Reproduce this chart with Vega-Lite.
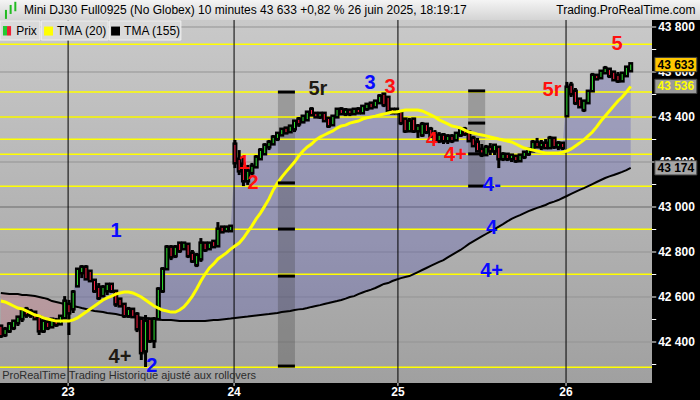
{
"$schema":"https://vega.github.io/schema/vega-lite/v6.json",
"width":652,"height":383,
"autosize":{"type":"none"},
"padding":{"left":0,"top":0,"right":48,"bottom":17},
"background":"#000000",
"config":{"view":{"stroke":null},"font":"Liberation Sans"},
"resolve":{"scale":{"color":"independent","fill":"independent"}},
"datasets":{
"bars":[
{"i":0,"o":42467,"h":42476,"l":42418,"c":42431,"a":42582,"b":42618},
{"i":1,"o":42436,"h":42467,"l":42422,"c":42453,"a":42578,"b":42616},
{"i":2,"o":42453,"h":42489,"l":42440,"c":42476,"a":42569,"b":42613},
{"i":3,"o":42467,"h":42498,"l":42453,"c":42489,"a":42560,"b":42613},
{"i":4,"o":42489,"h":42516,"l":42471,"c":42507,"a":42551,"b":42613},
{"i":5,"o":42507,"h":42551,"l":42489,"c":42538,"a":42547,"b":42609},
{"i":6,"o":42542,"h":42556,"l":42507,"c":42524,"a":42538,"b":42609},
{"i":7,"o":42524,"h":42547,"l":42507,"c":42533,"a":42529,"b":42607},
{"i":8,"o":42529,"h":42533,"l":42498,"c":42507,"a":42520,"b":42604},
{"i":9,"o":42507,"h":42516,"l":42431,"c":42453,"a":42516,"b":42600},
{"i":10,"o":42453,"h":42507,"l":42440,"c":42489,"a":42507,"b":42596},
{"i":11,"o":42484,"h":42498,"l":42453,"c":42467,"a":42502,"b":42591},
{"i":12,"o":42471,"h":42507,"l":42462,"c":42498,"a":42498,"b":42582},
{"i":13,"o":42493,"h":42507,"l":42467,"c":42480,"a":42493,"b":42578},
{"i":14,"o":42484,"h":42520,"l":42480,"c":42511,"a":42493,"b":42573},
{"i":15,"o":42511,"h":42604,"l":42507,"c":42578,"a":42493,"b":42569},
{"i":16,"o":42564,"h":42587,"l":42431,"c":42533,"a":42493,"b":42564},
{"i":17,"o":42551,"h":42631,"l":42529,"c":42618,"a":42498,"b":42560},
{"i":18,"o":42653,"h":42729,"l":42644,"c":42720,"a":42507,"b":42556},
{"i":19,"o":42711,"h":42742,"l":42684,"c":42729,"a":42520,"b":42551},
{"i":20,"o":42729,"h":42742,"l":42676,"c":42684,"a":42533,"b":42547},
{"i":21,"o":42711,"h":42720,"l":42667,"c":42676,"a":42547,"b":42542},
{"i":22,"o":42671,"h":42676,"l":42618,"c":42631,"a":42560,"b":42538},
{"i":23,"o":42640,"h":42662,"l":42587,"c":42600,"a":42573,"b":42536},
{"i":24,"o":42609,"h":42653,"l":42600,"c":42640,"a":42587,"b":42533},
{"i":25,"o":42631,"h":42662,"l":42609,"c":42653,"a":42596,"b":42529},
{"i":26,"o":42653,"h":42662,"l":42618,"c":42631,"a":42604,"b":42527},
{"i":27,"o":42622,"h":42631,"l":42556,"c":42573,"a":42613,"b":42524},
{"i":28,"o":42587,"h":42596,"l":42556,"c":42564,"a":42618,"b":42520},
{"i":29,"o":42564,"h":42564,"l":42507,"c":42520,"a":42622,"b":42518},
{"i":30,"o":42520,"h":42556,"l":42507,"c":42542,"a":42622,"b":42516},
{"i":31,"o":42542,"h":42542,"l":42507,"c":42516,"a":42618,"b":42513},
{"i":32,"o":42520,"h":42533,"l":42444,"c":42462,"a":42609,"b":42511},
{"i":33,"o":42498,"h":42507,"l":42320,"c":42356,"a":42600,"b":42509},
{"i":34,"o":42364,"h":42520,"l":42289,"c":42489,"a":42587,"b":42507},
{"i":35,"o":42498,"h":42507,"l":42396,"c":42409,"a":42573,"b":42504},
{"i":36,"o":42409,"h":42511,"l":42373,"c":42498,"a":42560,"b":42502},
{"i":37,"o":42507,"h":42644,"l":42498,"c":42631,"a":42551,"b":42500},
{"i":38,"o":42631,"h":42733,"l":42618,"c":42720,"a":42542,"b":42498},
{"i":39,"o":42729,"h":42831,"l":42720,"c":42818,"a":42538,"b":42498},
{"i":40,"o":42818,"h":42831,"l":42764,"c":42782,"a":42533,"b":42498},
{"i":41,"o":42787,"h":42831,"l":42773,"c":42818,"a":42533,"b":42496},
{"i":42,"o":42836,"h":42844,"l":42796,"c":42809,"a":42542,"b":42493},
{"i":43,"o":42818,"h":42844,"l":42809,"c":42836,"a":42556,"b":42493},
{"i":44,"o":42831,"h":42836,"l":42773,"c":42787,"a":42578,"b":42493},
{"i":45,"o":42791,"h":42809,"l":42751,"c":42764,"a":42604,"b":42493},
{"i":46,"o":42747,"h":42796,"l":42733,"c":42782,"a":42636,"b":42493},
{"i":47,"o":42773,"h":42862,"l":42756,"c":42836,"a":42671,"b":42493},
{"i":48,"o":42836,"h":42840,"l":42800,"c":42813,"a":42702,"b":42493},
{"i":49,"o":42818,"h":42844,"l":42809,"c":42836,"a":42729,"b":42496},
{"i":50,"o":42844,"h":42853,"l":42818,"c":42827,"a":42747,"b":42498},
{"i":51,"o":42831,"h":42933,"l":42822,"c":42898,"a":42769,"b":42498},
{"i":52,"o":42907,"h":42916,"l":42889,"c":42893,"a":42782,"b":42500},
{"i":53,"o":42898,"h":42916,"l":42893,"c":42907,"a":42796,"b":42502},
{"i":54,"o":42898,"h":42920,"l":42893,"c":42911,"a":42813,"b":42504},
{"i":55,"o":43276,"h":43298,"l":43173,"c":43200,"a":42827,"b":42507},
{"i":56,"o":43209,"h":43253,"l":43142,"c":43164,"a":42840,"b":42509},
{"i":57,"o":43187,"h":43222,"l":43093,"c":43120,"a":42862,"b":42511},
{"i":58,"o":43120,"h":43187,"l":43098,"c":43156,"a":42889,"b":42513},
{"i":59,"o":43156,"h":43196,"l":43142,"c":43178,"a":42916,"b":42516},
{"i":60,"o":43182,"h":43231,"l":43173,"c":43218,"a":42947,"b":42518},
{"i":61,"o":43218,"h":43262,"l":43209,"c":43249,"a":42973,"b":42520},
{"i":62,"o":43240,"h":43284,"l":43231,"c":43271,"a":43004,"b":42522},
{"i":63,"o":43271,"h":43298,"l":43253,"c":43284,"a":43036,"b":42524},
{"i":64,"o":43284,"h":43320,"l":43276,"c":43307,"a":43076,"b":42527},
{"i":65,"o":43307,"h":43333,"l":43293,"c":43324,"a":43107,"b":42529},
{"i":66,"o":43324,"h":43351,"l":43316,"c":43342,"a":43133,"b":42533},
{"i":67,"o":43347,"h":43356,"l":43324,"c":43333,"a":43156,"b":42536},
{"i":68,"o":43338,"h":43364,"l":43329,"c":43356,"a":43178,"b":42538},
{"i":69,"o":43351,"h":43387,"l":43333,"c":43378,"a":43200,"b":42542},
{"i":70,"o":43387,"h":43400,"l":43356,"c":43373,"a":43227,"b":42545},
{"i":71,"o":43382,"h":43409,"l":43373,"c":43400,"a":43249,"b":42547},
{"i":72,"o":43391,"h":43422,"l":43387,"c":43418,"a":43267,"b":42551},
{"i":73,"o":43431,"h":43444,"l":43404,"c":43413,"a":43280,"b":42556},
{"i":74,"o":43413,"h":43422,"l":43396,"c":43404,"a":43298,"b":42560},
{"i":75,"o":43404,"h":43422,"l":43391,"c":43413,"a":43311,"b":42564},
{"i":76,"o":43413,"h":43413,"l":43378,"c":43387,"a":43320,"b":42569},
{"i":77,"o":43391,"h":43400,"l":43351,"c":43364,"a":43329,"b":42573},
{"i":78,"o":43369,"h":43409,"l":43364,"c":43400,"a":43338,"b":42578},
{"i":79,"o":43404,"h":43440,"l":43396,"c":43431,"a":43351,"b":42582},
{"i":80,"o":43431,"h":43444,"l":43409,"c":43418,"a":43360,"b":42587},
{"i":81,"o":43418,"h":43440,"l":43404,"c":43427,"a":43364,"b":42593},
{"i":82,"o":43427,"h":43436,"l":43404,"c":43418,"a":43373,"b":42600},
{"i":83,"o":43418,"h":43440,"l":43409,"c":43431,"a":43378,"b":42604},
{"i":84,"o":43431,"h":43444,"l":43413,"c":43422,"a":43382,"b":42613},
{"i":85,"o":43422,"h":43449,"l":43418,"c":43444,"a":43391,"b":42620},
{"i":86,"o":43440,"h":43462,"l":43427,"c":43453,"a":43396,"b":42627},
{"i":87,"o":43458,"h":43467,"l":43436,"c":43444,"a":43400,"b":42633},
{"i":88,"o":43449,"h":43476,"l":43440,"c":43467,"a":43404,"b":42640},
{"i":89,"o":43467,"h":43502,"l":43458,"c":43489,"a":43409,"b":42649},
{"i":90,"o":43498,"h":43507,"l":43444,"c":43458,"a":43413,"b":42658},
{"i":91,"o":43484,"h":43493,"l":43422,"c":43431,"a":43418,"b":42662},
{"i":92,"o":43431,"h":43440,"l":43413,"c":43422,"a":43422,"b":42671},
{"i":93,"o":43422,"h":43440,"l":43413,"c":43431,"a":43422,"b":42678},
{"i":94,"o":43418,"h":43418,"l":43364,"c":43378,"a":43427,"b":42684},
{"i":95,"o":43387,"h":43396,"l":43329,"c":43342,"a":43431,"b":42689},
{"i":96,"o":43342,"h":43396,"l":43333,"c":43378,"a":43431,"b":42693},
{"i":97,"o":43387,"h":43396,"l":43329,"c":43342,"a":43431,"b":42702},
{"i":98,"o":43342,"h":43369,"l":43307,"c":43356,"a":43431,"b":42711},
{"i":99,"o":43324,"h":43378,"l":43311,"c":43364,"a":43427,"b":42720},
{"i":100,"o":43364,"h":43373,"l":43324,"c":43338,"a":43418,"b":42729},
{"i":101,"o":43342,"h":43356,"l":43307,"c":43320,"a":43409,"b":42738},
{"i":102,"o":43324,"h":43342,"l":43289,"c":43298,"a":43400,"b":42747},
{"i":103,"o":43298,"h":43333,"l":43284,"c":43316,"a":43387,"b":42756},
{"i":104,"o":43316,"h":43329,"l":43280,"c":43298,"a":43378,"b":42764},
{"i":105,"o":43298,"h":43324,"l":43280,"c":43311,"a":43369,"b":42776},
{"i":106,"o":43311,"h":43324,"l":43284,"c":43298,"a":43360,"b":42787},
{"i":107,"o":43302,"h":43333,"l":43293,"c":43324,"a":43356,"b":42798},
{"i":108,"o":43324,"h":43351,"l":43311,"c":43342,"a":43351,"b":42809},
{"i":109,"o":43342,"h":43356,"l":43316,"c":43329,"a":43342,"b":42822},
{"i":110,"o":43329,"h":43342,"l":43289,"c":43298,"a":43333,"b":42836},
{"i":111,"o":43302,"h":43316,"l":43267,"c":43276,"a":43329,"b":42847},
{"i":112,"o":43284,"h":43307,"l":43244,"c":43253,"a":43324,"b":42858},
{"i":113,"o":43253,"h":43280,"l":43222,"c":43236,"a":43320,"b":42869},
{"i":114,"o":43236,"h":43276,"l":43227,"c":43262,"a":43316,"b":42880},
{"i":115,"o":43262,"h":43284,"l":43231,"c":43253,"a":43311,"b":42891},
{"i":116,"o":43253,"h":43280,"l":43231,"c":43271,"a":43307,"b":42902},
{"i":117,"o":43262,"h":43262,"l":43173,"c":43218,"a":43302,"b":42913},
{"i":118,"o":43218,"h":43244,"l":43204,"c":43231,"a":43298,"b":42924},
{"i":119,"o":43231,"h":43240,"l":43204,"c":43218,"a":43293,"b":42936},
{"i":120,"o":43218,"h":43231,"l":43200,"c":43227,"a":43289,"b":42947},
{"i":121,"o":43222,"h":43227,"l":43196,"c":43209,"a":43280,"b":42956},
{"i":122,"o":43209,"h":43236,"l":43200,"c":43227,"a":43271,"b":42964},
{"i":123,"o":43227,"h":43249,"l":43213,"c":43240,"a":43262,"b":42973},
{"i":124,"o":43240,"h":43262,"l":43227,"c":43253,"a":43258,"b":42982},
{"i":125,"o":43253,"h":43298,"l":43244,"c":43284,"a":43253,"b":42989},
{"i":126,"o":43284,"h":43307,"l":43262,"c":43271,"a":43249,"b":42996},
{"i":127,"o":43271,"h":43298,"l":43253,"c":43280,"a":43244,"b":43002},
{"i":128,"o":43280,"h":43302,"l":43258,"c":43267,"a":43240,"b":43009},
{"i":129,"o":43267,"h":43316,"l":43262,"c":43302,"a":43240,"b":43018},
{"i":130,"o":43302,"h":43311,"l":43258,"c":43271,"a":43240,"b":43024},
{"i":131,"o":43271,"h":43293,"l":43253,"c":43280,"a":43240,"b":43031},
{"i":132,"o":43280,"h":43289,"l":43253,"c":43267,"a":43244,"b":43040},
{"i":133,"o":43409,"h":43556,"l":43400,"c":43529,"a":43249,"b":43049},
{"i":134,"o":43538,"h":43556,"l":43489,"c":43507,"a":43258,"b":43058},
{"i":135,"o":43511,"h":43529,"l":43453,"c":43467,"a":43271,"b":43067},
{"i":136,"o":43476,"h":43484,"l":43440,"c":43449,"a":43284,"b":43076},
{"i":137,"o":43436,"h":43476,"l":43422,"c":43467,"a":43298,"b":43084},
{"i":138,"o":43467,"h":43520,"l":43458,"c":43511,"a":43316,"b":43093},
{"i":139,"o":43520,"h":43596,"l":43511,"c":43582,"a":43333,"b":43102},
{"i":140,"o":43582,"h":43591,"l":43564,"c":43573,"a":43356,"b":43111},
{"i":141,"o":43578,"h":43609,"l":43573,"c":43600,"a":43382,"b":43120},
{"i":142,"o":43600,"h":43627,"l":43591,"c":43613,"a":43404,"b":43129},
{"i":143,"o":43609,"h":43613,"l":43573,"c":43587,"a":43427,"b":43136},
{"i":144,"o":43596,"h":43604,"l":43560,"c":43569,"a":43449,"b":43142},
{"i":145,"o":43582,"h":43600,"l":43551,"c":43564,"a":43471,"b":43149},
{"i":146,"o":43564,"h":43600,"l":43560,"c":43591,"a":43489,"b":43156},
{"i":147,"o":43587,"h":43627,"l":43578,"c":43618,"a":43511,"b":43164},
{"i":148,"o":43609,"h":43640,"l":43600,"c":43633,"a":43536,"b":43174}
],
"grid":[{"p":42400,"lab":"42 400"},{"p":42600,"lab":"42 600"},{"p":42800,"lab":"42 800"},{"p":43000,"lab":"43 000"},{"p":43200,"lab":"43 200"},{"p":43400,"lab":"43 400"},{"p":43600,"lab":"43 600"},{"p":43800,"lab":"43 800"}],
"yticks":[{"p":42300},{"p":42400},{"p":42500},{"p":42600},{"p":42700},{"p":42800},{"p":42900},{"p":43000},{"p":43100},{"p":43200},{"p":43300},{"p":43400},{"p":43500},{"p":43600},{"p":43700},{"p":43800}],
"levels":[{"p":43723},{"p":43511},{"p":43400},{"p":43301},{"p":43234},{"p":43092},{"p":42901},{"p":42701},{"p":42288}],
"days":[{"d":15.8,"lab":"23"},{"d":54.8,"lab":"24"},{"d":93.3,"lab":"25"},{"d":132.8,"lab":"26"}],
"bands":[{"x1":65.1,"x2":69.1,"p1":42289,"p2":43511},{"x1":109.8,"x2":113.8,"p1":43093,"p2":43516}],
"bandmarks":[{"x1":65.1,"x2":69.1,"p":43511},{"x1":65.1,"x2":69.1,"p":43107},{"x1":65.1,"x2":69.1,"p":42902},{"x1":65.1,"x2":69.1,"p":42693},{"x1":65.1,"x2":69.1,"p":42293},{"x1":109.8,"x2":113.8,"p":43516},{"x1":109.8,"x2":113.8,"p":43373},{"x1":109.8,"x2":113.8,"p":43236},{"x1":109.8,"x2":113.8,"p":43093}],
"waves":[
{"t":"1","d":"bleu","i":27.06,"p":42893},
{"t":"2","d":"bleu","i":35.5,"p":42293},
{"t":"4+","d":"noir","i":28,"p":42333},
{"t":"1","d":"rouge","i":57.13,"p":43196},
{"t":"2","d":"rouge","i":59.25,"p":43107},
{"t":"5r","d":"noir","i":74.5,"p":43524},
{"t":"3","d":"bleu","i":86.74,"p":43551},
{"t":"3","d":"rouge","i":91.44,"p":43533},
{"t":"4","d":"rouge","i":101.2,"p":43298},
{"t":"4+","d":"rouge","i":106.8,"p":43231},
{"t":"4-","d":"bleu","i":115.4,"p":43100},
{"t":"4","d":"bleu","i":115.3,"p":42907},
{"t":"4+","d":"bleu","i":115.3,"p":42716},
{"t":"5r","d":"rouge","i":129.5,"p":43520},
{"t":"5","d":"rouge","i":144.8,"p":43724}
],
"tags":[{"v":43633,"k":"prix","lab":"43 633"},{"v":43536,"k":"tma20","lab":"43 536"},{"v":43174,"k":"tma155","lab":"43 174"}]
},
"layer":[
{"data":{"values":[{}]},"mark":{"type":"rect","color":{"gradient":"linear","x1":0,"y1":0,"x2":0,"y2":1,"stops":[{"offset":0,"color":"#c9c9c9"},{"offset":1,"color":"#a0a0a0"}]}},
 "encoding":{
  "x":{"datum":-0.2,"type":"quantitative","scale":{"domain":[-0.2,153],"nice":false,"zero":false},"axis":null},
  "x2":{"datum":153},
  "y":{"datum":42217.8,"type":"quantitative","scale":{"domain":[42217.8,43920],"nice":false,"zero":false},"axis":null},
  "y2":{"datum":43831}}},
{"data":{"values":[{}]},"mark":{"type":"rect","color":{"gradient":"linear","x1":0,"y1":0,"x2":0,"y2":1,"stops":[{"offset":0,"color":"#f6f6f6"},{"offset":1,"color":"#d4d4d4"}]}},
 "encoding":{"x":{"datum":-0.2,"type":"quantitative","axis":null},"x2":{"datum":164.4},"y":{"datum":43831,"type":"quantitative","axis":null},"y2":{"datum":43925}}},
{"data":{"name":"grid"},"mark":{"type":"rule","strokeWidth":1},
 "encoding":{"x":{"datum":-0.2,"type":"quantitative","axis":null},"x2":{"datum":153},
  "y":{"field":"p","type":"quantitative","axis":null},
  "color":{"condition":{"test":"datum.p == 43000","value":"#6a6a6a"},"value":"#939393"}}},
{"data":{"name":"yticks"},"mark":{"type":"rule","strokeWidth":1,"color":"#ffffff"},
 "encoding":{"x":{"datum":153,"type":"quantitative","axis":null},"x2":{"datum":154.0},"y":{"field":"p","type":"quantitative","axis":null}}},
{"data":{"name":"grid"},"mark":{"type":"text","align":"left","baseline":"middle","fontSize":12,"fontWeight":"bold","color":"#ffffff"},
 "encoding":{"x":{"datum":154.45,"type":"quantitative","axis":null},"y":{"field":"p","type":"quantitative","axis":null},"text":{"field":"lab"}}},
{"data":{"name":"days"},"mark":{"type":"rule","strokeWidth":1,"color":"#ffffff"},
 "encoding":{"x":{"field":"d","type":"quantitative","axis":null},"y":{"datum":42217.8,"type":"quantitative","axis":null},"y2":{"datum":42205}}},
{"data":{"name":"days"},"mark":{"type":"text","align":"center","baseline":"middle","fontSize":12,"fontWeight":"bold","color":"#ffffff"},
 "encoding":{"x":{"field":"d","type":"quantitative","axis":null},"y":{"datum":42180,"type":"quantitative","axis":null},"text":{"field":"lab"}}},
{"data":{"name":"bars"},"transform":[{"filter":"datum.i <= 16"}],"mark":{"type":"area","color":"#d07b89","opacity":0.35},
 "encoding":{"x":{"field":"i","type":"quantitative","axis":null},"y":{"field":"c","type":"quantitative","axis":null},"y2":{"field":"b"}}},
{"data":{"name":"bars"},"transform":[{"filter":"datum.i >= 16 && datum.i <= 31"}],"mark":{"type":"area","color":"#5050b4","opacity":0.3},
 "encoding":{"x":{"field":"i","type":"quantitative","axis":null},"y":{"field":"c","type":"quantitative","axis":null},"y2":{"field":"b"}}},
{"data":{"name":"bars"},"transform":[{"filter":"datum.i >= 31 && datum.i <= 37"}],"mark":{"type":"area","color":"#d07b89","opacity":0.35},
 "encoding":{"x":{"field":"i","type":"quantitative","axis":null},"y":{"field":"c","type":"quantitative","axis":null},"y2":{"field":"b"}}},
{"data":{"name":"bars"},"transform":[{"filter":"datum.i >= 37"}],"mark":{"type":"area","color":"#5050b4","opacity":0.3},
 "encoding":{"x":{"field":"i","type":"quantitative","axis":null},"y":{"field":"c","type":"quantitative","axis":null},"y2":{"field":"b"}}},
{"data":{"name":"bands"},"mark":{"type":"rect","color":"#383838","opacity":0.28},
 "encoding":{"x":{"field":"x1","type":"quantitative","axis":null},"x2":{"field":"x2"},"y":{"field":"p1","type":"quantitative","axis":null},"y2":{"field":"p2"}}},
{"data":{"name":"levels"},"mark":{"type":"rule","color":"#ffff00","strokeWidth":1.5},
 "encoding":{"x":{"datum":-0.2,"type":"quantitative","axis":null},"x2":{"datum":153},"y":{"field":"p","type":"quantitative","axis":null}}},
{"data":{"name":"days"},"mark":{"type":"rule","color":"#000000","strokeWidth":1},
 "encoding":{"x":{"field":"d","type":"quantitative","axis":null},
  "y":{"datum":42217.8,"type":"quantitative","axis":null},"y2":{"datum":43831}}},
{"data":{"name":"bars"},"mark":{"type":"line","color":"#000000","strokeWidth":2},
 "encoding":{"x":{"field":"i","type":"quantitative","axis":null},"y":{"field":"b","type":"quantitative","axis":null}}},
{"data":{"name":"bars"},"mark":{"type":"rule","color":"#000000","strokeWidth":3},
 "encoding":{"x":{"field":"i","type":"quantitative","axis":null},"y":{"field":"l","type":"quantitative","axis":null},"y2":{"field":"h"}}},
{"data":{"name":"bars"},"mark":{"type":"rule","color":"#000000","strokeWidth":5,"strokeCap":"square"},
 "encoding":{"x":{"field":"i","type":"quantitative","axis":null},"y":{"field":"o","type":"quantitative","axis":null},"y2":{"field":"c"}}},
{"data":{"name":"bars"},"mark":{"type":"rule","strokeWidth":1},
 "encoding":{"x":{"field":"i","type":"quantitative","axis":null},"y":{"field":"o","type":"quantitative","axis":null},"y2":{"field":"c"},
  "color":{"condition":{"test":"datum.c >= datum.o","value":"#2ee02e"},"value":"#ff2040"}}},
{"data":{"name":"bars"},"mark":{"type":"line","color":"#ffff00","strokeWidth":3},
 "encoding":{"x":{"field":"i","type":"quantitative","axis":null},"y":{"field":"a","type":"quantitative","axis":null}}},
{"data":{"name":"bandmarks"},"mark":{"type":"rule","color":"#000000","strokeWidth":3},
 "encoding":{"x":{"field":"x1","type":"quantitative","axis":null},"x2":{"field":"x2"},"y":{"field":"p","type":"quantitative","axis":null}}},
{"data":{"name":"waves"},"mark":{"type":"text","fontSize":20,"fontWeight":"bold","font":"Liberation Sans","align":"center","baseline":"middle"},
 "encoding":{"x":{"field":"i","type":"quantitative","axis":null},"y":{"field":"p","type":"quantitative","axis":null},"text":{"field":"t"},
  "color":{"field":"d","type":"nominal","scale":{"domain":["bleu","rouge","noir"],"range":["#0a0aff","#ff1010","#1e1a14"]},"legend":null}}},
{"data":{"values":[{}]},"mark":{"type":"text","text":"ProRealTime Trading  Historique ajusté aux rollovers","align":"left","baseline":"middle","fontSize":11,"color":"#2c2c2c"},
 "encoding":{"x":{"datum":0.3,"type":"quantitative","axis":null},"y":{"datum":42249,"type":"quantitative","axis":null}}},
{"data":{"values":[{}]},"mark":{"type":"text","text":"Mini DJ30 Full0925 (No Globex) 10 minutes 43 633 +0,82 % 26 juin 2025, 18:19:17","align":"left","baseline":"middle","fontSize":12,"color":"#000000"},
 "encoding":{"x":{"datum":5.44,"type":"quantitative","axis":null},"y":{"datum":43876,"type":"quantitative","axis":null}}},
{"data":{"values":[{}]},"mark":{"type":"text","text":"Trading.ProRealTime.com","align":"right","baseline":"middle","fontSize":12,"color":"#000000"},
 "encoding":{"x":{"datum":163.2,"type":"quantitative","axis":null},"y":{"datum":43876,"type":"quantitative","axis":null}}},
{"data":{"values":[{}]},"mark":{"type":"rule","color":"#22bb22","strokeWidth":2},
 "encoding":{"x":{"datum":1.2,"type":"quantitative","axis":null},"y":{"datum":43836,"type":"quantitative","axis":null},"y2":{"datum":43876}}},
{"data":{"values":[{}]},"mark":{"type":"rule","color":"#22bb22","strokeWidth":2},
 "encoding":{"x":{"datum":2.3,"type":"quantitative","axis":null},"y":{"datum":43858,"type":"quantitative","axis":null},"y2":{"datum":43898}}},
{"data":{"values":[{}]},"mark":{"type":"rule","color":"#22bb22","strokeWidth":2},
 "encoding":{"x":{"datum":3.4,"type":"quantitative","axis":null},"y":{"datum":43870,"type":"quantitative","axis":null},"y2":{"datum":43912}}},
{"data":{"values":[{}]},"mark":{"type":"rect","color":"#dadada","stroke":"#f0f0f0","strokeWidth":1},
 "encoding":{"x":{"datum":-0.2,"type":"quantitative","axis":null},"x2":{"datum":9.2},"y":{"datum":43742,"type":"quantitative","axis":null},"y2":{"datum":43827}}},
{"data":{"values":[{}]},"mark":{"type":"rect","color":"#dadada","stroke":"#f0f0f0","strokeWidth":1},
 "encoding":{"x":{"datum":9.5,"type":"quantitative","axis":null},"x2":{"datum":25.2},"y":{"datum":43742,"type":"quantitative","axis":null},"y2":{"datum":43827}}},
{"data":{"values":[{}]},"mark":{"type":"rect","color":"#dadada","stroke":"#f0f0f0","strokeWidth":1},
 "encoding":{"x":{"datum":25.5,"type":"quantitative","axis":null},"x2":{"datum":42.3},"y":{"datum":43742,"type":"quantitative","axis":null},"y2":{"datum":43827}}},
{"data":{"values":[{}]},"mark":{"type":"rect","color":"#22cc33"},
 "encoding":{"x":{"datum":0.5,"type":"quantitative","axis":null},"x2":{"datum":1.45},"y":{"datum":43762,"type":"quantitative","axis":null},"y2":{"datum":43804}}},
{"data":{"values":[{}]},"mark":{"type":"rect","color":"#ee2233"},
 "encoding":{"x":{"datum":1.45,"type":"quantitative","axis":null},"x2":{"datum":2.4},"y":{"datum":43762,"type":"quantitative","axis":null},"y2":{"datum":43804}}},
{"data":{"values":[{}]},"mark":{"type":"rect","color":"#ffff00"},
 "encoding":{"x":{"datum":10.15,"type":"quantitative","axis":null},"x2":{"datum":12.25},"y":{"datum":43762,"type":"quantitative","axis":null},"y2":{"datum":43802}}},
{"data":{"values":[{}]},"mark":{"type":"rect","color":"#000000"},
 "encoding":{"x":{"datum":25.9,"type":"quantitative","axis":null},"x2":{"datum":28.0},"y":{"datum":43762,"type":"quantitative","axis":null},"y2":{"datum":43802}}},
{"data":{"values":[{}]},"mark":{"type":"text","text":"Prix","align":"left","baseline":"middle","fontSize":12,"color":"#000000"},
 "encoding":{"x":{"datum":3.6,"type":"quantitative","axis":null},"y":{"datum":43783,"type":"quantitative","axis":null}}},
{"data":{"values":[{}]},"mark":{"type":"text","text":"TMA (20)","align":"left","baseline":"middle","fontSize":12,"color":"#000000"},
 "encoding":{"x":{"datum":13.2,"type":"quantitative","axis":null},"y":{"datum":43783,"type":"quantitative","axis":null}}},
{"data":{"values":[{}]},"mark":{"type":"text","text":"TMA (155)","align":"left","baseline":"middle","fontSize":12,"color":"#000000"},
 "encoding":{"x":{"datum":28.95,"type":"quantitative","axis":null},"y":{"datum":43783,"type":"quantitative","axis":null}}},
{"data":{"name":"tags"},"mark":{"type":"point","shape":"M-1,-0.34L1,-0.34L1,0.34L-1,0.34Z","size":1764,"filled":true,"opacity":1,"stroke":"#404040","strokeWidth":1},
 "encoding":{"x":{"datum":158.6,"type":"quantitative","axis":null},"y":{"field":"v","type":"quantitative","axis":null},
  "fill":{"field":"k","type":"nominal","scale":{"domain":["prix","tma20","tma155"],"range":["#ffc800","#9a9a9a","#a6a6a6"]},"legend":null}}},
{"data":{"name":"tags"},"mark":{"type":"text","align":"center","baseline":"middle","fontSize":12,"fontWeight":"bold"},
 "encoding":{"x":{"datum":158.6,"type":"quantitative","axis":null},"y":{"field":"v","type":"quantitative","axis":null},"text":{"field":"lab"},
  "color":{"field":"k","type":"nominal","scale":{"domain":["prix","tma20","tma155"],"range":["#000000","#ffff00","#000000"]},"legend":null}}}
]
}
